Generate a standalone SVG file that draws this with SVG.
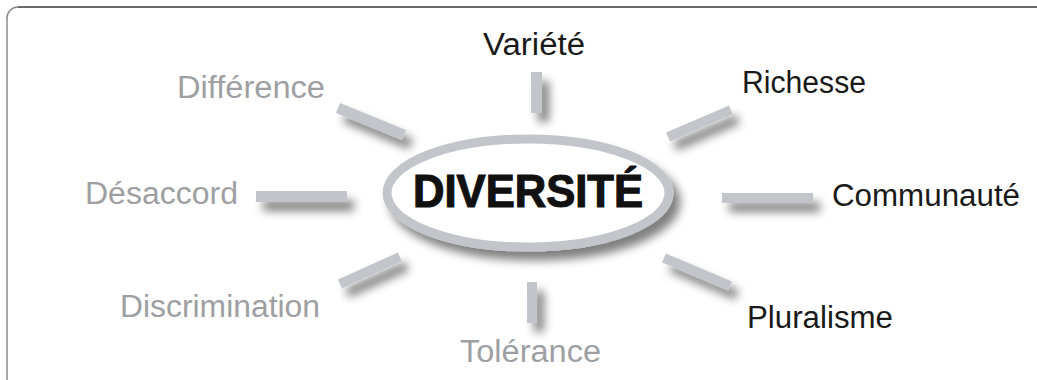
<svg xmlns="http://www.w3.org/2000/svg" width="1037" height="380" viewBox="0 0 1037 380">
<style>
.lbl{font-family:"Liberation Sans",Arial,sans-serif;font-size:31px}
.dark{fill:#1a1a1a}
.light{fill:#9d9fa2}
.spoke{fill:#c2c6ca}
.title{font-family:"Liberation Sans",Arial,sans-serif;font-weight:bold;font-size:46px;fill:#111;stroke:#111;stroke-width:1.2px}
</style>
<defs>
<filter id="sh" x="-50%" y="-50%" width="200%" height="200%">
<feGaussianBlur in="SourceAlpha" stdDeviation="5"/>
<feOffset dx="7" dy="9" result="b"/>
<feComponentTransfer><feFuncA type="linear" slope="0.5"/></feComponentTransfer>
<feMerge><feMergeNode/><feMergeNode in="SourceGraphic"/></feMerge>
</filter>
</defs>
<rect width="1037" height="380" fill="#fff"/>
<path d="M7,380 V18 A11,11 0 0 1 18,7 H1037" fill="none" stroke="#8a8a8a" stroke-width="1.5"/>
<path d="M18,7 H1037" fill="none" stroke="#555" stroke-width="1.5"/>
<g id="connectors" filter="url(#sh)">
<rect class="spoke" x="531" y="72" width="11" height="41"/>
<rect class="spoke" x="527" y="282" width="10" height="41"/>
<rect class="spoke" x="256" y="191" width="91" height="11"/>
<rect class="spoke" x="722" y="193" width="91" height="10"/>
<line x1="338" y1="108" x2="404" y2="135" stroke="#c2c6ca" stroke-width="11"/>
<line x1="668" y1="137" x2="731" y2="110" stroke="#c2c6ca" stroke-width="10"/>
<line x1="340" y1="284" x2="400" y2="257" stroke="#c2c6ca" stroke-width="10"/>
<line x1="664" y1="258" x2="730" y2="286" stroke="#c2c6ca" stroke-width="10"/>
</g>
<g id="center">
<ellipse cx="528" cy="193" rx="141" ry="54" fill="#fff" stroke="#c2c6ca" stroke-width="9" filter="url(#sh)"/>
<text class="title" x="413" y="207" textLength="230" lengthAdjust="spacingAndGlyphs">DIVERSITÉ</text>
</g>
<g id="n-variete"><text class="lbl dark" x="483" y="55" textLength="102" lengthAdjust="spacingAndGlyphs">Variété</text></g>
<g id="n-richesse"><text class="lbl dark" x="742" y="93" textLength="124" lengthAdjust="spacingAndGlyphs">Richesse</text></g>
<g id="n-communaute"><text class="lbl dark" x="832" y="206" textLength="188" lengthAdjust="spacingAndGlyphs">Communauté</text></g>
<g id="n-pluralisme"><text class="lbl dark" x="747" y="328" textLength="146" lengthAdjust="spacingAndGlyphs">Pluralisme</text></g>
<g id="n-tolerance"><text class="lbl light" x="460" y="362" textLength="141" lengthAdjust="spacingAndGlyphs">Tolérance</text></g>
<g id="n-discrimination"><text class="lbl light" x="120" y="317" textLength="200" lengthAdjust="spacingAndGlyphs">Discrimination</text></g>
<g id="n-desaccord"><text class="lbl light" x="85" y="204" textLength="153" lengthAdjust="spacingAndGlyphs">Désaccord</text></g>
<g id="n-difference"><text class="lbl light" x="177" y="98" textLength="148" lengthAdjust="spacingAndGlyphs">Différence</text></g>
</svg>
